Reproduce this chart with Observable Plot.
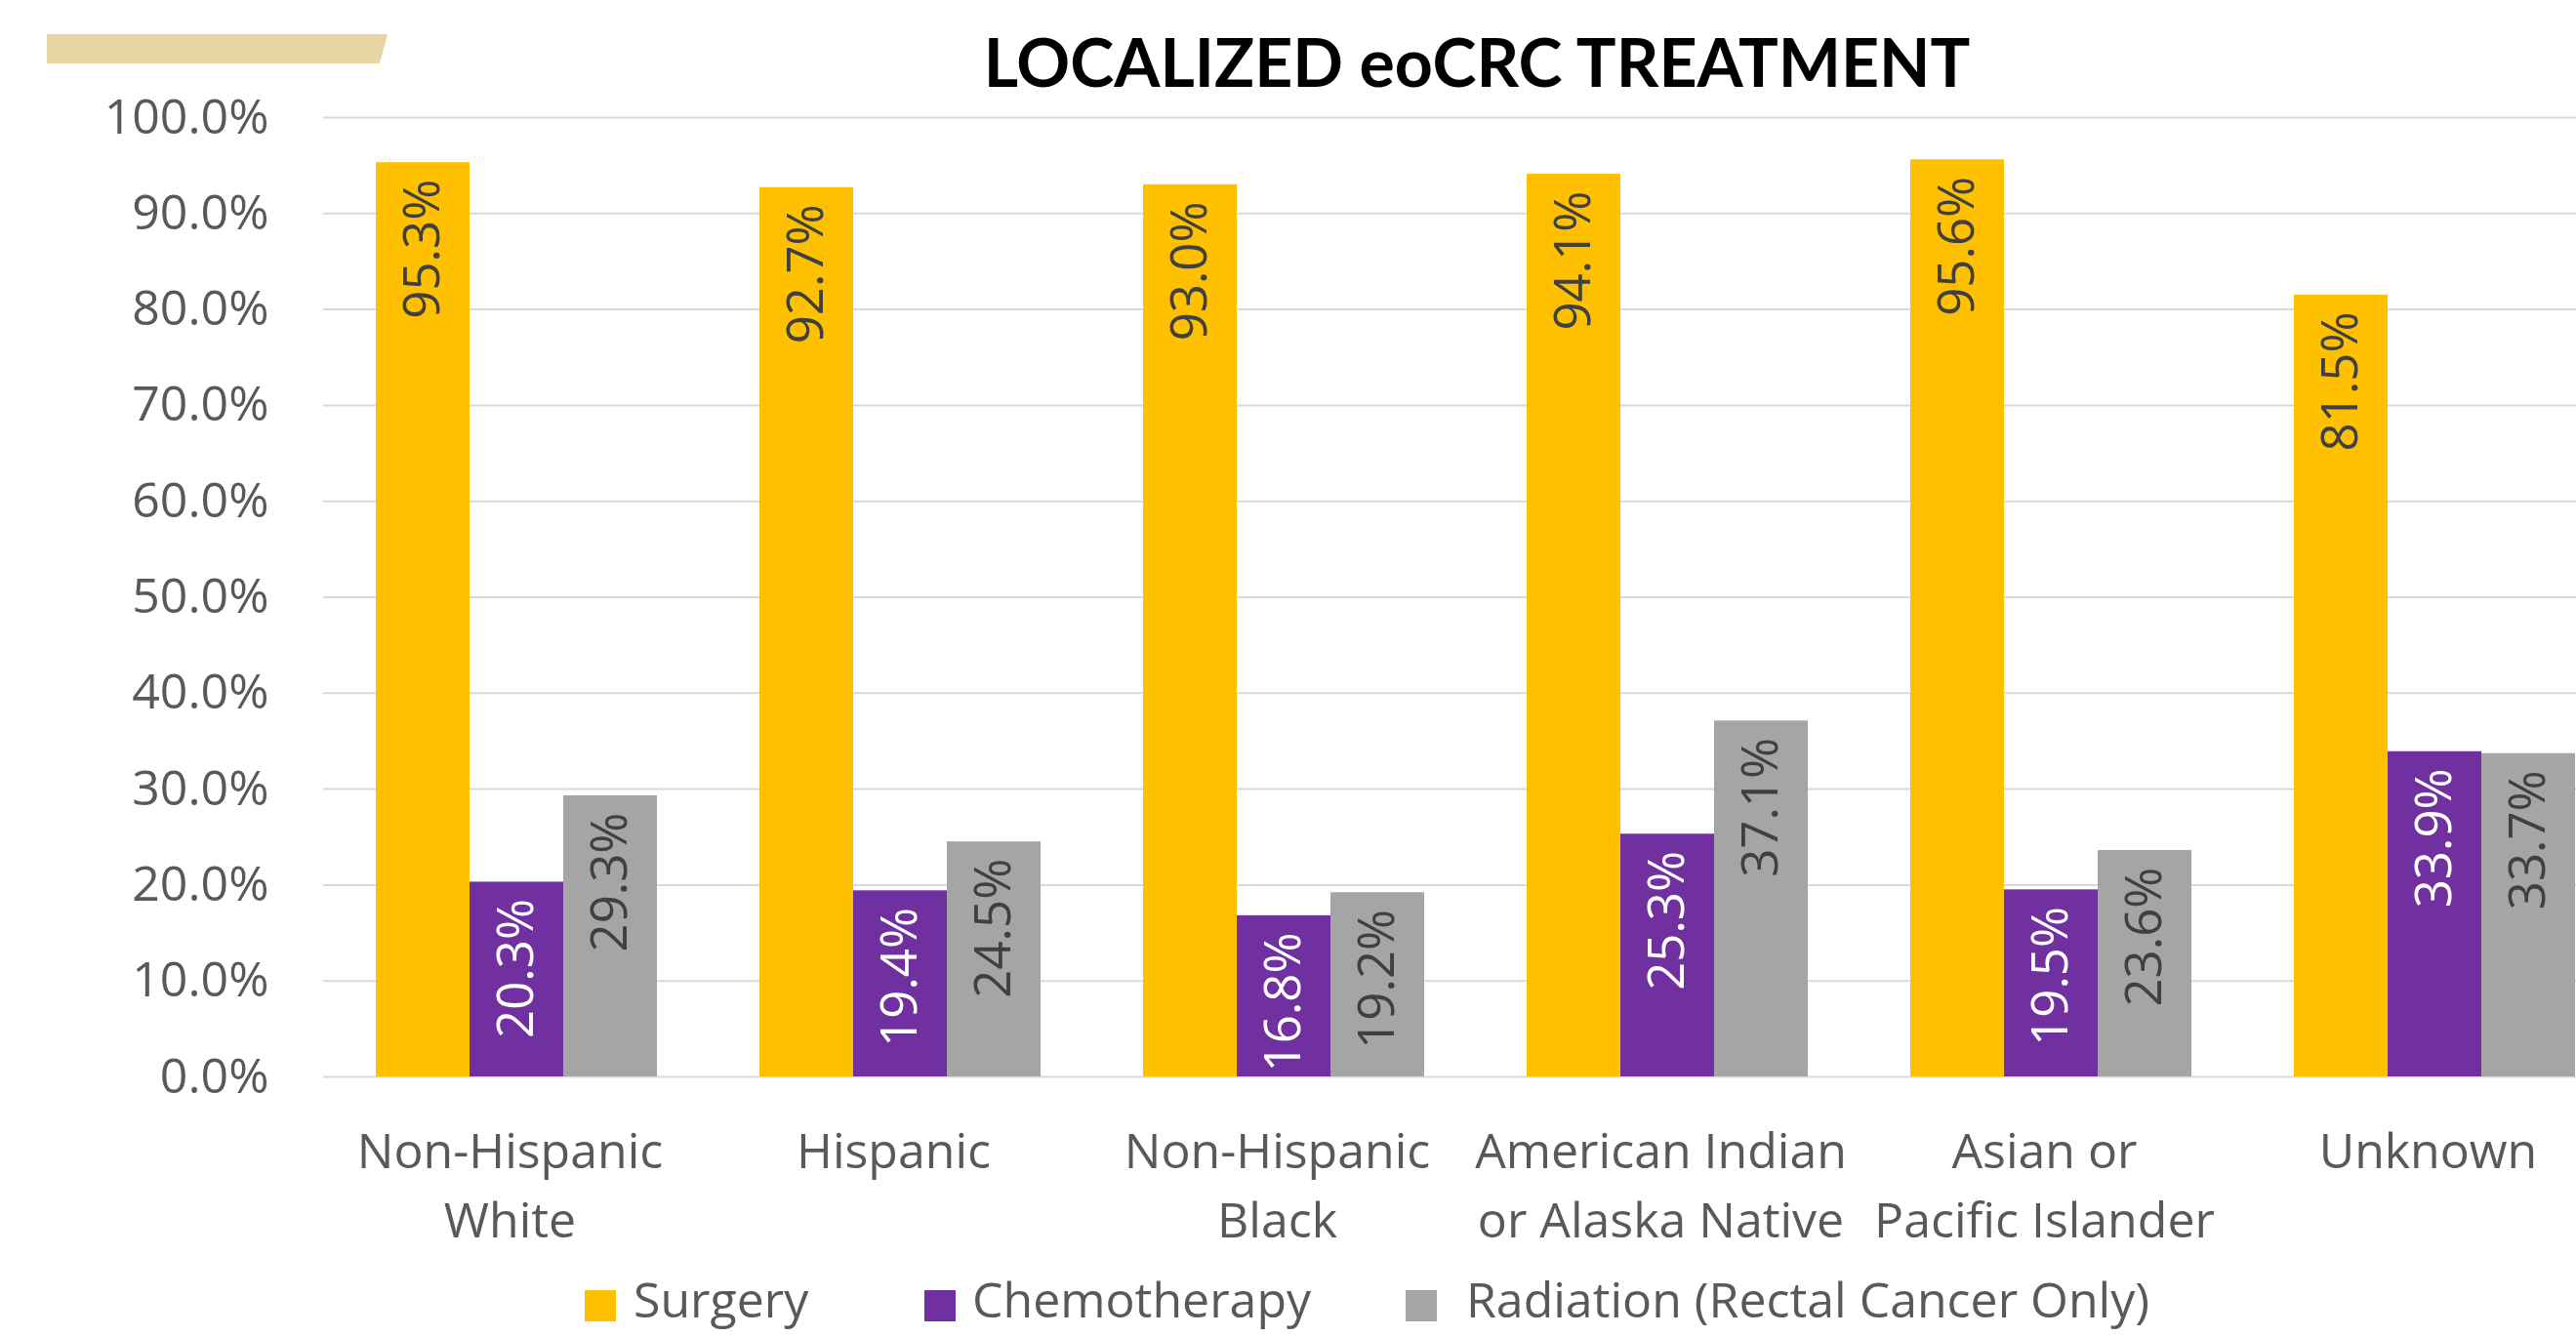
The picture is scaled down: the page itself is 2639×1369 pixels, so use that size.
<!DOCTYPE html>
<html>
<head>
<meta charset="utf-8">
<script src="https://cdn.jsdelivr.net/npm/d3@7"></script>
<script src="https://cdn.jsdelivr.net/npm/@observablehq/plot@0.6"></script>
<style>
  html, body { margin: 0; padding: 0; background: #fff; overflow: hidden; }
  #wrap { position: relative; width: 2639px; height: 1369px; overflow: hidden; }
  #wrap svg { position: absolute; left: 0; top: 0; }
  #deco { position: absolute; left: 48px; top: 35px; width: 349px; height: 30px; background: #E8D5A4;
          clip-path: polygon(0 0, 100% 0, 97.7% 100%, 0 100%); }
  #title { position: absolute; left: 1513px; top: 29px; transform: translateX(-50%); white-space: nowrap;
           font-family: Lato, sans-serif; font-weight: 700; font-size: 68px; line-height: 68px; color: #000; }
  .leg { position: absolute; top: 1306px; font-family: 'Open Sans', sans-serif; font-size: 50px; line-height: 50px;
         color: #595959; white-space: nowrap; }
  .sw { position: absolute; top: 1322px; width: 32px; height: 32px; }
</style>
</head>
<body>
<div id="wrap">
  <div id="deco"></div>
  <div id="title">LOCALIZED eoCRC TREATMENT</div>
</div>
<script>
const categories = ["Non-Hispanic White", "Hispanic", "Non-Hispanic Black", "American Indian or Alaska Native", "Asian or Pacific Islander", "Unknown"];
const categoryLabels = ["Non-Hispanic\nWhite", "Hispanic", "Non-Hispanic\nBlack", "American Indian\nor Alaska Native", "Asian or\nPacific Islander", "Unknown"];
const series = ["Surgery", "Chemotherapy", "Radiation (Rectal Cancer Only)"];
const surgery = [95.3, 92.7, 93.0, 94.1, 95.6, 81.5];
const chemotherapy = [20.3, 19.4, 16.8, 25.3, 19.5, 33.9];
const radiation = [29.3, 24.5, 19.2, 37.1, 23.6, 33.7];
const yTicks = [0, 10, 20, 30, 40, 50, 60, 70, 80, 90, 100];
const colors = ["#FFC000", "#7030A0", "#A5A5A5"];
const labelColors = ["#404040", "#FFFFFF", "#404040"];

const seriesValues = [surgery, chemotherapy, radiation];
const table = categories.flatMap((c, i) => series.map((s, j) => ({category: c, series: s, value: seriesValues[j][i]})));
const labelOf = new Map(categories.map((c, i) => [c, categoryLabels[i]]));
const labelColorOf = new Map(series.map((s, j) => [s, labelColors[j]]));

const W = 2692, H = 1300, ML = 331, MT = 120, MB = H - 1103;
const common = {
  width: W, height: H, marginLeft: ML, marginRight: 0, marginTop: MT, marginBottom: MB,
  style: {fontFamily: "'Open Sans', sans-serif", background: "transparent", maxWidth: "none", overflow: "visible"}
};

const back = Plot.plot({
  ...common,
  y: {domain: [0, 100], axis: null},
  marks: [
    Plot.gridY(yTicks, {stroke: "#D9D9D9", strokeWidth: 2, strokeOpacity: 1}),
    Plot.axisY(yTicks, {tickSize: 0, tickPadding: 56, tickFormat: d => d.toFixed(1) + "%", fontSize: 50, fill: "#595959", label: null})
  ]
});

const front = Plot.plot({
  ...common,
  fx: {domain: categories, paddingInner: 0.268, paddingOuter: 0.134, label: null, axis: null},
  x: {domain: series, padding: 0, axis: null},
  y: {domain: [0, 100], axis: null},
  color: {domain: series, range: colors},
  marks: [
    Plot.barY(table, {fx: "category", x: "series", y: "value", fill: "series"}),
    Plot.text(table, {fx: "category", x: "series", y: "value", text: d => d.value.toFixed(1) + "%",
      rotate: -90, textAnchor: "end", dy: 17, fontSize: 51, fill: d => labelColorOf.get(d.series)}),
    Plot.axisFx({anchor: "bottom", tickSize: 0, tickPadding: 43, dx: -7, lineHeight: 1.42, fontSize: 50, fill: "#595959",
      tickFormat: c => labelOf.get(c), label: null})
  ]
});

const wrap = document.getElementById("wrap");
wrap.insertBefore(back, wrap.firstChild);
wrap.insertBefore(front, back.nextSibling);

// legend
const legendPos = [[599, 649], [947, 996], [1440, 1502]];
series.forEach((s, j) => {
  const sw = document.createElement("div");
  sw.className = "sw"; sw.style.left = legendPos[j][0] + "px"; sw.style.background = colors[j];
  const t = document.createElement("div");
  t.className = "leg"; t.style.left = legendPos[j][1] + "px"; t.textContent = s;
  wrap.appendChild(sw); wrap.appendChild(t);
});
</script>
</body>
</html>
